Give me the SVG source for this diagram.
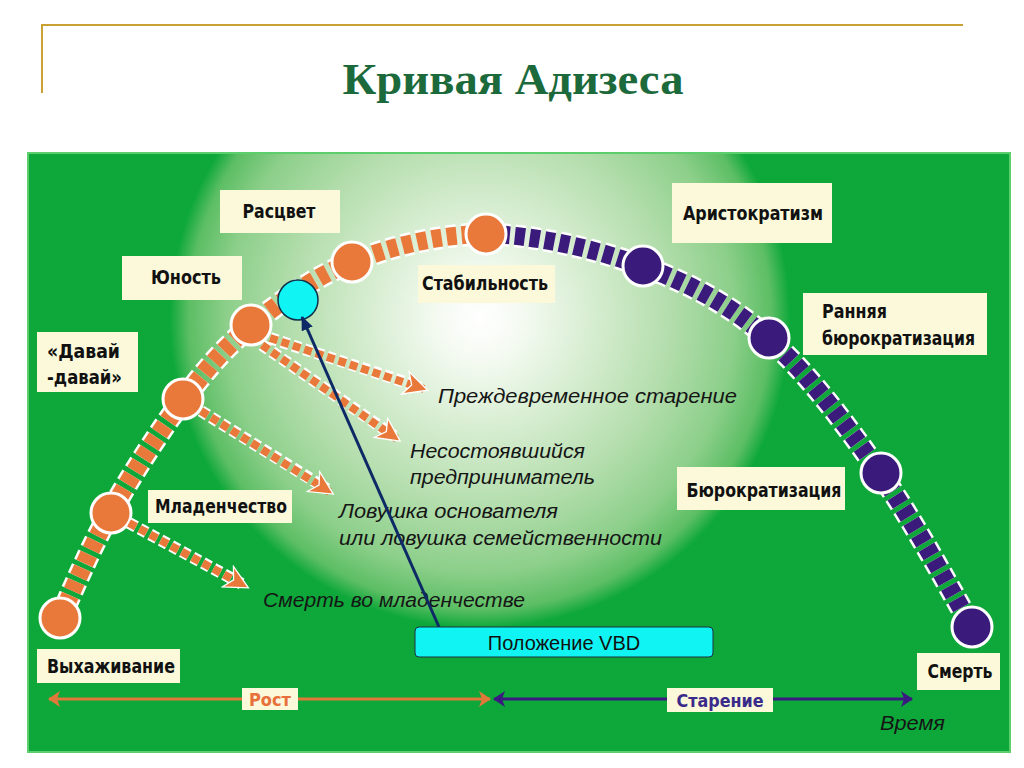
<svg xmlns="http://www.w3.org/2000/svg" width="1024" height="768" viewBox="0 0 1024 768">
<defs>
<radialGradient id="glow" gradientUnits="userSpaceOnUse" cx="480" cy="318" r="310">
<stop offset="0" stop-color="#ffffff"/>
<stop offset="0.14" stop-color="#f4faf1"/>
<stop offset="0.38" stop-color="#d4ecce"/>
<stop offset="0.62" stop-color="#b2ddab"/>
<stop offset="0.82" stop-color="#8ccf8a"/>
<stop offset="0.94" stop-color="#5cbe64"/>
<stop offset="1" stop-color="#0ea83a"/>
</radialGradient>
<marker id="oh" viewBox="0 0 20 20" refX="16" refY="10" markerWidth="26" markerHeight="26" markerUnits="userSpaceOnUse" orient="auto">
<path d="M1,1 L19,10 L1,19 L6,10 z" fill="#e8793a" stroke="#ffffff" stroke-width="1"/>
</marker>
<marker id="ax-o" viewBox="0 0 12 16" refX="11" refY="8" markerWidth="12" markerHeight="16" markerUnits="userSpaceOnUse" orient="auto-start-reverse">
<path d="M0,0 L12,8 L0,16 L3,8 z" fill="#e0783a"/>
</marker>
<marker id="ax-p" viewBox="0 0 12 16" refX="11" refY="8" markerWidth="12" markerHeight="16" markerUnits="userSpaceOnUse" orient="auto-start-reverse">
<path d="M0,0 L12,8 L0,16 L3,8 z" fill="#3a1a80"/>
</marker>
<marker id="nv" viewBox="0 0 14 12" refX="13" refY="6" markerWidth="14" markerHeight="12" markerUnits="userSpaceOnUse" orient="auto">
<path d="M0,0 L14,6 L0,12 z" fill="#0d2a66"/>
</marker>
</defs>
<style>
.box{fill:#fbf9d9}
.lbl{font-family:"Liberation Sans Narrow","DejaVu Sans Condensed","Liberation Sans",sans-serif;font-weight:bold;font-size:20px;fill:#111111}
.it{font-family:"Liberation Sans",Arial,sans-serif;font-style:italic;font-size:20px;fill:#151515}
.oc{fill:#e8793a;stroke:#ffffff;stroke-width:3}
.pc{fill:#3a1a7a;stroke:#ffffff;stroke-width:3}
.dw{fill:none;stroke:#ffffff;stroke-width:12;stroke-dasharray:8 4}
.do{fill:none;stroke:#e8793a;stroke-width:8;stroke-dasharray:8 4}
</style>
<rect width="1024" height="768" fill="#ffffff"/>
<g id="title">
<path d="M42,93 V25 H963" fill="none" stroke="#c9a233" stroke-width="2"/>
<text x="513" y="94" text-anchor="middle" textLength="341" lengthAdjust="spacingAndGlyphs" font-family="Liberation Serif,Times New Roman,serif" font-weight="bold" font-size="44" fill="#1c6a3c">Кривая Адизеса</text>
</g>
<g id="panel">
<rect x="28" y="153" width="982" height="599" fill="#0ea83a" stroke="#5ccf6c" stroke-width="2"/>
<rect x="29" y="154" width="980" height="597" fill="url(#glow)"/>
</g>
<g id="curve">
<path d="M60,618 C68.3,600.5 89.5,549.3 110,513 C130.5,476.7 159.3,431.3 183,400 C206.7,368.7 223.8,348 252,325 C280.2,302 313.2,277.2 352,262 C390.8,246.8 436.7,234.7 485,234" fill="none" stroke="#ffffff" stroke-width="23" stroke-dasharray="10 5"/>
<path d="M60,618 C68.3,600.5 89.5,549.3 110,513 C130.5,476.7 159.3,431.3 183,400 C206.7,368.7 223.8,348 252,325 C280.2,302 313.2,277.2 352,262 C390.8,246.8 436.7,234.7 485,234" fill="none" stroke="#e8793a" stroke-width="18" stroke-dasharray="10 5"/>
<path d="M485,234 C533.3,234.7 594.8,248.7 642,266 C689.2,283.3 728.3,303.5 768,338 C807.7,372.5 846,424.8 880,473 C914,521.2 956.7,601.3 972,627" fill="none" stroke="#ffffff" stroke-width="23" stroke-dasharray="10 5"/>
<path d="M485,234 C533.3,234.7 594.8,248.7 642,266 C689.2,283.3 728.3,303.5 768,338 C807.7,372.5 846,424.8 880,473 C914,521.2 956.7,601.3 972,627" fill="none" stroke="#3a1a7a" stroke-width="18" stroke-dasharray="10 5"/>
</g>
<g id="n-vyhazhivanie">
<circle class="oc" cx="60" cy="618" r="20"/>
<rect class="box" x="37" y="649" width="143" height="34"/>
<text class="lbl" x="111" y="673" text-anchor="middle" textLength="128" lengthAdjust="spacingAndGlyphs">Выхаживание</text>
</g>
<g id="n-mladenchestvo">
<circle class="oc" cx="111" cy="513" r="20"/>
<rect class="box" x="148" y="490" width="144" height="33"/>
<text class="lbl" x="221" y="513" text-anchor="middle" textLength="132" lengthAdjust="spacingAndGlyphs">Младенчество</text>
</g>
<g id="n-davai">
<circle class="oc" cx="183" cy="399" r="20"/>
<rect class="box" x="37" y="332" width="101" height="60"/>
<text class="lbl" x="47" y="358" textLength="73" lengthAdjust="spacingAndGlyphs">«Давай</text>
<text class="lbl" x="47" y="384" textLength="75" lengthAdjust="spacingAndGlyphs">-давай»</text>
</g>
<g id="n-yunost">
<circle class="oc" cx="251" cy="325" r="20"/>
<rect class="box" x="122" y="256" width="120" height="44"/>
<text class="lbl" x="186" y="284" text-anchor="middle" textLength="70" lengthAdjust="spacingAndGlyphs">Юность</text>
</g>
<g id="n-rascvet">
<circle class="oc" cx="352" cy="262" r="20"/>
<rect class="box" x="220" y="190" width="120" height="43"/>
<text class="lbl" x="279" y="218" text-anchor="middle" textLength="73" lengthAdjust="spacingAndGlyphs">Расцвет</text>
</g>
<g id="n-stabilnost">
<circle class="oc" cx="486" cy="234" r="20"/>
<rect class="box" x="418" y="265" width="137" height="38"/>
<text class="lbl" x="485" y="290" text-anchor="middle" textLength="126" lengthAdjust="spacingAndGlyphs">Стабильность</text>
</g>
<g id="n-aristokratizm">
<circle class="pc" cx="643" cy="266" r="20"/>
<rect class="box" x="672" y="183" width="160" height="60"/>
<text class="lbl" x="753" y="220" text-anchor="middle" textLength="140" lengthAdjust="spacingAndGlyphs">Аристократизм</text>
</g>
<g id="n-rannyaya">
<circle class="pc" cx="769" cy="338" r="20"/>
<rect class="box" x="803" y="293" width="184" height="62"/>
<text class="lbl" x="822" y="318" textLength="65" lengthAdjust="spacingAndGlyphs">Ранняя</text>
<text class="lbl" x="822" y="345" textLength="153" lengthAdjust="spacingAndGlyphs">бюрократизация</text>
</g>
<g id="n-byurokratizaciya">
<circle class="pc" cx="881" cy="473" r="20"/>
<rect class="box" x="677" y="467" width="168" height="43"/>
<text class="lbl" x="764" y="497" text-anchor="middle" textLength="155" lengthAdjust="spacingAndGlyphs">Бюрократизация</text>
</g>
<g id="n-smert">
<circle class="pc" cx="972" cy="627" r="20"/>
<rect class="box" x="917" y="653" width="83" height="37"/>
<text class="lbl" x="960" y="678" text-anchor="middle" textLength="65" lengthAdjust="spacingAndGlyphs">Смерть</text>
</g>
<g id="n-vbd-point">
<circle cx="298" cy="300" r="20" fill="#11f4f4" stroke="#10304a" stroke-width="1.5"/>
</g>
<g id="outcomes">
<text class="it" x="438" y="403" textLength="299" lengthAdjust="spacingAndGlyphs">Преждевременное старение</text>
<text class="it" x="410" y="458" textLength="175" lengthAdjust="spacingAndGlyphs">Несостоявшийся</text>
<text class="it" x="410" y="484" textLength="185" lengthAdjust="spacingAndGlyphs">предприниматель</text>
<text class="it" x="339" y="518" textLength="219" lengthAdjust="spacingAndGlyphs">Ловушка основателя</text>
<text class="it" x="339" y="545" textLength="323" lengthAdjust="spacingAndGlyphs">или ловушка семейственности</text>
<text class="it" x="263" y="607" textLength="262" lengthAdjust="spacingAndGlyphs">Смерть во младенчестве</text>
<text class="it" x="880" y="730" textLength="65" lengthAdjust="spacingAndGlyphs">Время</text>
</g>
<g id="connectors">
<path class="dw" d="M270,338 L420,387"/>
<path class="do" d="M270,338 L424,389" marker-end="url(#oh)"/>
<path class="dw" d="M262,345 L394,436"/>
<path class="do" d="M262,345 L397,439" marker-end="url(#oh)"/>
<path class="dw" d="M201,411 L327,489"/>
<path class="do" d="M201,411 L330,492" marker-end="url(#oh)"/>
<path class="dw" d="M129,523 L242,584"/>
<path class="do" d="M129,523 L245,586" marker-end="url(#oh)"/>
<line x1="49" y1="699" x2="490" y2="699" stroke="#e0783a" stroke-width="3" marker-start="url(#ax-o)" marker-end="url(#ax-o)"/>
<line x1="494" y1="699" x2="912" y2="699" stroke="#3a1a80" stroke-width="3" marker-start="url(#ax-p)" marker-end="url(#ax-p)"/>
<line x1="439" y1="627" x2="302" y2="317" stroke="#0d2a66" stroke-width="3" marker-end="url(#nv)"/>
</g>
<g id="axis-labels">
<rect class="box" x="242" y="688" width="56" height="22"/>
<text x="270" y="706" text-anchor="middle" textLength="42" lengthAdjust="spacingAndGlyphs" font-family="Liberation Sans Narrow,DejaVu Sans Condensed,Liberation Sans,sans-serif" font-weight="bold" font-size="18" fill="#e8703a">Рост</text>
<rect class="box" x="667" y="688" width="106" height="24"/>
<text x="720" y="707" text-anchor="middle" textLength="87" lengthAdjust="spacingAndGlyphs" font-family="Liberation Sans Narrow,DejaVu Sans Condensed,Liberation Sans,sans-serif" font-weight="bold" font-size="18" fill="#3a2a8a">Старение</text>
</g>
<g id="n-vbd">
<rect x="415" y="627" width="298" height="30" rx="4" fill="#11f4f4" stroke="#1a3040" stroke-width="1"/>
<text x="564" y="650" text-anchor="middle" font-family="Liberation Sans,Arial,sans-serif" font-size="20" fill="#111111">Положение VBD</text>
</g>
</svg>
